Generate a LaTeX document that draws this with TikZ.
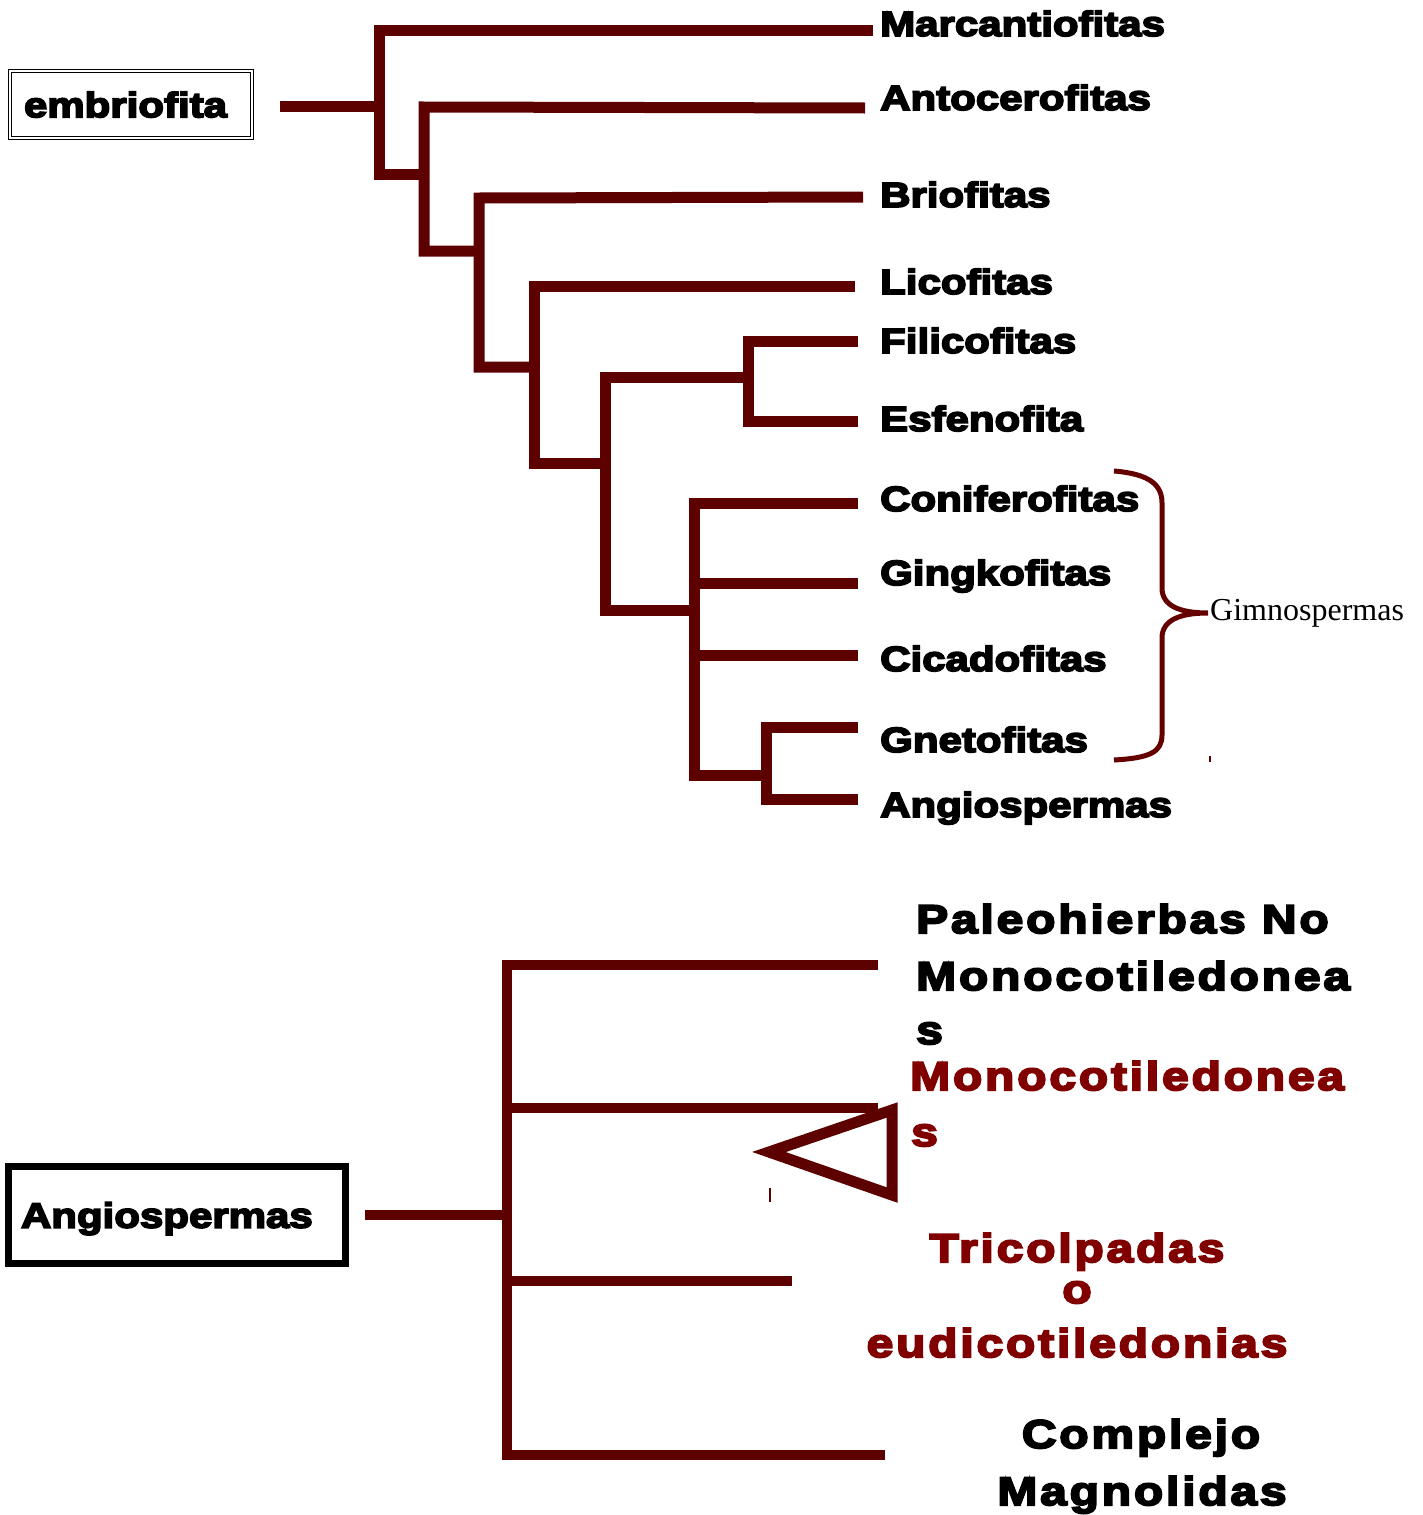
\documentclass[tikz,border=0pt]{standalone}
\usepackage{fontspec}
\setmainfont{Liberation Serif}
\newfontfamily\blk{Liberation Sans Bold}[FakeStretch=1.2,RawFeature={embolden=5}]
\newfontfamily\blksp{Liberation Sans Bold}[FakeStretch=1.2,RawFeature={embolden=5},LetterSpace=7]
\definecolor{tree}{HTML}{5C0000}
\definecolor{rtxt}{HTML}{800000}
\definecolor{brc}{HTML}{650000}
\tikzset{
  br/.style={draw=tree, line width=11pt, line join=miter},
  brb/.style={draw=tree, line width=10pt, line join=miter},
  lab/.style={font={\blk\fontsize{35pt}{40pt}\selectfont}, anchor=base west, inner sep=0pt},
  labsp/.style={font={\blksp\fontsize{40pt}{46pt}\selectfont}, inner sep=0pt},
  tick/.style={draw=tree, line width=1.5pt},
}
\begin{document}
\begin{tikzpicture}[x=1pt,y=-1pt]
\useasboundingbox (0,0) rectangle (1423,1515);
% ---------- top tree ----------
\node[draw=black, line width=1.2pt, double=white, double distance=1.8pt,
      minimum width=242pt, minimum height=67.5pt, text width=214pt, inner xsep=14pt,
      inner ysep=0pt, text depth=0pt, align=left,
      font={\blk\fontsize{35pt}{40pt}\selectfont}] (emb) at (131,104.5) {embriofita};
\coordinate (r0) at (280,106);
\coordinate (j1) at (379,106);
\coordinate (v1t) at (379,30);  \coordinate (v1b) at (379,174);
\coordinate (v2t) at (424,107); \coordinate (v2b) at (424,251);
\coordinate (v3t) at (479,198); \coordinate (v3b) at (479,367);
\coordinate (v4t) at (534,286); \coordinate (v4b) at (534,463);
\coordinate (v5t) at (605,377); \coordinate (v5b) at (605,610);
\coordinate (v6t) at (748,341); \coordinate (v6b) at (748,421); \coordinate (v6m) at (748,377);
\coordinate (v7t) at (694,503); \coordinate (v7b) at (694,775);
\coordinate (v8t) at (766,727); \coordinate (v8b) at (766,799);
\coordinate (a1) at (873,30);
\coordinate (a2) at (865,108);
\coordinate (a3) at (863,197);
\coordinate (a4) at (855,286);
\coordinate (a5) at (858,341);
\coordinate (a6) at (858,421);
\coordinate (a7) at (858,503);
\coordinate (a8) at (858,583);
\coordinate (a9) at (858,655.5);
\coordinate (a10) at (858,727);
\coordinate (a11) at (858,799);

\draw[br] (r0) -- (j1);
\draw[br] (a1) -- (v1t) -- (v1b) -- (v1b -| v2t);
\draw[br] (a2) -- (v2t) -- (v2b) -- (v2b -| v3t);
\draw[br] (a3) -- (v3t) -- (v3b) -- (v3b -| v4t);
\draw[br] (a4) -- (v4t) -- (v4b) -- (v4b -| v5t);
\draw[br] (v6m) -- (v5t) -- (v5b) -- (v5b -| v7t);
\draw[br] (a5) -- (v6t) -- (v6b) -- (a6);
\draw[br] (a7) -- (v7t) -- (v7b) -- (v7b -| v8t);
\draw[br] (v7t |- a8) -- (a8);
\draw[br] (v7t |- a9) -- (a9);
\draw[br] (a10) -- (v8t) -- (v8b) -- (a11);

\node[lab] (l1) at (880,36) {Marcantiofitas};
\node[lab] (l2) at (880,110) {Antocerofitas};
\node[lab] (l3) at (880,207) {Briofitas};
\node[lab] (l4) at (880,294) {Licofitas};
\node[lab] (l5) at (880,353) {Filicofitas};
\node[lab] (l6) at (880,431) {Esfenofita};
\node[lab] (l7) at (880,511) {Coniferofitas};
\node[lab] (l8) at (880,585) {Gingkofitas};
\node[lab] (l9) at (880,671) {Cicadofitas};
\node[lab] (l10) at (880,752) {Gnetofitas};
\node[lab] (l11) at (880,817) {Angiospermas};

% brace
\coordinate (bt) at (1114,471);
\coordinate (bb) at (1114,760);
\coordinate (btip) at (1208,613);
\draw[draw=brc, line width=5pt]
  (bt) .. controls (1150,474) and (1162,485) .. (1162,503) -- (1162,588)
  .. controls (1162,606) and (1180,613) .. (btip)
  .. controls (1180,613) and (1162,620) .. (1162,638) -- (1162,735)
  .. controls (1162,752) and (1150,758) .. (bb);
\node[anchor=base west, inner sep=0pt, font=\fontsize{32pt}{36pt}\selectfont] (gim) at (1210,620) {Gimnospermas};
\coordinate (t1a) at (1210,756); \coordinate (t1b) at (1210,762);
\draw[tick] (t1a) -- (t1b);

% ---------- bottom tree ----------
\node[draw=black, line width=7pt, minimum width=337pt, minimum height=97pt,
      text width=312pt, inner xsep=12.5pt, inner ysep=0pt, text depth=0pt, align=left,
      font={\blk\fontsize{35pt}{40pt}\selectfont}] (ang) at (177,1215) {Angiospermas};
\coordinate (s0) at (365,1215);
\coordinate (sj) at (507,1215);
\coordinate (bvt) at (507,964.5);
\coordinate (bvb) at (507,1455);
\coordinate (b1) at (878,964.5);
\coordinate (b2) at (878,1108);
\coordinate (b3) at (792,1281);
\coordinate (b4) at (885,1455);
\draw[brb] (s0) -- (sj);
\draw[brb] (b1) -- (bvt) -- (bvb) -- (b4);
\draw[brb] (bvt |- b2) -- (b2);
\draw[brb] (bvt |- b3) -- (b3);
\coordinate (tr1) at (769,1152);
\coordinate (tr2) at (892,1110);
\coordinate (tr3) at (892,1195);
\draw[draw=tree, line width=11pt, line join=miter] (tr1) -- (tr2) -- (tr3) -- cycle;
\coordinate (t2a) at (770,1188); \coordinate (t2b) at (770,1202);
\draw[tick] (t2a) -- (t2b);

\node[labsp, anchor=base west] (p1) at (916,933) {Paleohierbas No};
\node[labsp, anchor=base west] (p2) at (916,990) {Monocotiledonea};
\node[labsp, anchor=base west] (p3) at (916,1044) {s};
\node[labsp, anchor=base west, text=rtxt] (m1) at (910,1090) {Monocotiledonea};
\node[labsp, anchor=base west, text=rtxt] (m2) at (911,1146) {s};
\node[labsp, anchor=base, text=rtxt] (e1) at (1077,1262) {Tricolpadas};
\node[labsp, anchor=base, text=rtxt] (e2) at (1077,1303) {o};
\node[labsp, anchor=base, text=rtxt] (e3) at (1077,1357) {eudicotiledonias};
\node[labsp, anchor=base] (c1) at (1141,1448) {Complejo};
\node[labsp, anchor=base] (c2) at (1142,1505) {Magnolidas};
\end{tikzpicture}
\end{document}
